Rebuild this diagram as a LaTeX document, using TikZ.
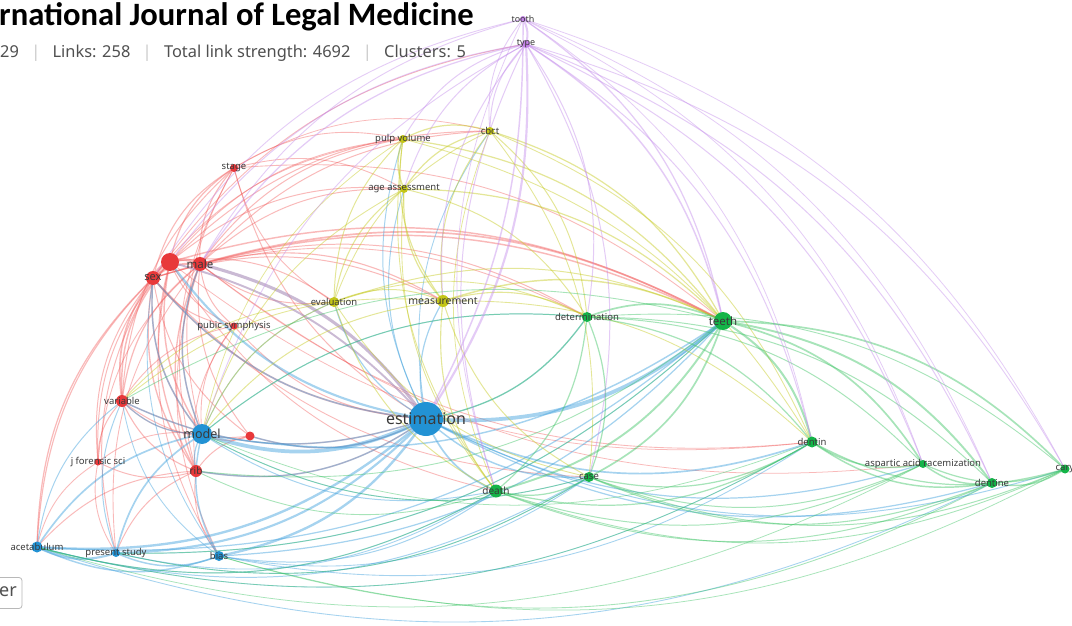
\documentclass[tikz,border=0pt]{standalone}
\usepackage{fontspec}
\setmainfont{Noto Sans}
\newfontfamily\titlefont{Carlito}
\usetikzlibrary{calc}

\definecolor{cRed}{RGB}{232,56,58}
\definecolor{cBlue}{RGB}{34,146,212}
\definecolor{cGreen}{RGB}{20,180,72}
\definecolor{cYel}{RGB}{196,198,24}
\definecolor{cPur}{RGB}{196,130,232}
\definecolor{eRed}{RGB}{242,90,90}
\definecolor{eBlue}{RGB}{70,164,222}
\definecolor{eGreen}{RGB}{60,196,100}
\definecolor{eYel}{RGB}{200,204,40}
\definecolor{ePur}{RGB}{196,140,236}
\definecolor{eMix}{RGB}{168,140,184}
\definecolor{labgray}{RGB}{58,58,58}
\definecolor{subgray}{RGB}{80,80,80}
\definecolor{sepgray}{RGB}{200,200,200}

\pgfdeclarelayer{paper}
\pgfdeclarelayer{links}
\pgfsetlayers{paper,links,main}

\tikzset{
  lab/.style={text=labgray, inner sep=0pt},
  lR/.style={draw=eRed, draw opacity=0.42},
  lB/.style={draw=eBlue, draw opacity=0.48},
  lG/.style={draw=eGreen, draw opacity=0.45},
  lY/.style={draw=eYel, draw opacity=0.48},
  lP/.style={draw=ePur, draw opacity=0.45},
  lM/.style={draw=eMix, draw opacity=0.6},
  kwdot/.style={circle, inner sep=0pt, draw=none},
}

% keyword: name, x, y, colour, diameter, font size, text
\newcommand\kw[7]{%
  \node[kwdot, fill=#4, minimum size=#5pt,
        label={[lab, font=\fontsize{#6}{#6}\selectfont]center:#7}] (#1) at (#2,#3) {};}

% curved link bowing away from the layout centre: style, from, to, weight, bend
% (a negative bend makes the link bow towards the centre instead)
\newcommand\lnk[5]{%
  \draw[#1, line width={(0.3+1.15*#4)*1pt}] let \p1=(#2.center), \p2=(#3.center), \p3=(ctr),
    \n1={((\x1-\x3)/100)*((\y2-\y3)/100)-((\y1-\y3)/100)*((\x2-\x3)/100)},
    \n2={ifthenelse(\n1<0,#5,-#5)} in
    (#2.center) to[bend left=\n2] (#3.center);}

\newcommand\statsep{\hspace{0.75em}{\color{sepgray}|}\hspace{0.75em}}

\begin{document}
\begin{tikzpicture}[x=1pt,y=-1pt]
\useasboundingbox (0,0) rectangle (1072,626);
\begin{pgfonlayer}{paper}
\fill[white] (0,0) rectangle (1072,626);
\end{pgfonlayer}
\clip (0,0) rectangle (1072,626);

\coordinate (ctr) at (520,350);

% ---- keywords ----
\kw{tooth}{523}{19}{cPur}{6}{9}{tooth}
\kw{type}{526}{44}{cPur}{8}{9}{type}
\kw{pulp}{403}{139}{cYel}{8}{9.5}{pulp volume}
\kw{cbct}{490}{131}{cYel}{8}{9.5}{cbct}
\kw{stage}{234}{168}{cRed}{8}{9.5}{stage}
\kw{age}{404}{189}{cYel}{8}{9.5}{age assessment}
\kw{redA}{170}{262}{cRed}{18}{10}{}
\kw{male}{200}{264}{cRed}{14}{11.5}{male}
\kw{sex}{153}{278}{cRed}{14}{11}{sex}
\kw{eval}{334}{302}{cYel}{10}{9.5}{evaluation}
\kw{meas}{443}{301}{cYel}{12}{10.5}{measurement}
\kw{pubic}{234}{326}{cRed}{7}{9.5}{pubic symphysis}
\kw{determ}{587}{317}{cGreen}{10}{9.5}{determination}
\kw{teeth}{723}{321}{cGreen}{18}{11.5}{teeth}
\kw{variable}{122}{401}{cRed}{12}{9.5}{variable}
\kw{est}{426}{419}{cBlue}{34}{16}{estimation}
\kw{model}{202}{434}{cBlue}{20}{12.5}{model}
\kw{redB}{250}{436}{cRed}{9}{9}{}
\kw{jfs}{98}{462}{cRed}{7}{9.5}{j forensic sci}
\kw{rib}{196}{471}{cRed}{12}{10}{rib}
\kw{dentin}{812}{442}{cGreen}{11}{9.5}{dentin}
\kw{asp}{923}{464}{cGreen}{8}{9.5}{aspartic acid racemization}
\kw{case}{589}{477}{cGreen}{10}{9.5}{case}
\kw{death}{496}{491}{cGreen}{13}{10}{death}
\kw{dentine}{992}{483}{cGreen}{10}{9.5}{dentine}
\kw{cary}{1065}{469}{cGreen}{9}{9.5}{cary}
\kw{acet}{37}{547}{cBlue}{11}{9.5}{acetabulum}
\kw{pres}{116}{553}{cBlue}{8}{9.5}{present study}
\kw{bias}{219}{556}{cBlue}{10}{9.5}{bias}

% ---- links ----
\begin{pgfonlayer}{links}
\foreach \a/\b/\w in {sex/redA/2.2, redA/male/2.2, sex/male/1.5, sex/stage/0.7, redA/stage/0.8,
  male/stage/0.7, sex/variable/1.2, redA/variable/1.0, male/variable/0.8, sex/model/1,
  redA/model/1, male/model/0.9, sex/rib/0.9, redA/rib/0.9, male/rib/0.9, sex/jfs/0.6,
  redA/jfs/0.6, male/jfs/0.5, sex/pubic/0.6, male/pubic/0.6, redA/pubic/0.6, sex/acet/0.8,
  redA/acet/0.7, sex/pres/0.6, male/pres/0.5, redA/bias/0.5, male/bias/0.5, variable/model/0.7,
  variable/rib/0.7, variable/jfs/0.6, variable/redB/0.6, rib/redB/0.6, rib/jfs/0.6,
  model/redB/0.8, redB/male/0.6, redB/sex/0.6, stage/variable/0.6, stage/rib/0.5,
  stage/eval/0.5, stage/age/0.5, stage/pulp/0.5, stage/teeth/0.5, stage/model/0.5,
  male/teeth/1.2, sex/teeth/1.0, redA/teeth/1.0, male/cbct/0.6, redA/cbct/0.6, male/pulp/0.6,
  redA/age/0.6, male/age/0.6, sex/pulp/0.5, sex/meas/0.6, male/meas/0.7, male/eval/0.6,
  redA/eval/0.6, male/determ/0.6, sex/determ/0.5, male/dentin/0.5, redA/death/0.5,
  pubic/model/0.5, pubic/rib/0.5, pubic/variable/0.5, jfs/model/0.5, jfs/acet/0.5,
  jfs/pres/0.5, rib/pres/0.6, rib/acet/0.6, rib/bias/0.5, sex/case/0.5, redA/dentin/0.4,
  male/asp/0.4, sex/est/1.2, variable/est/0.8, rib/est/0.8, redB/est/0.8,
  pubic/est/0.6, stage/est/0.6, sex/type/0.5, redA/pulp/0.5, stage/cbct/0.4}
  {\lnk{lR}{\a}{\b}{\w}{22}}
\lnk{lM}{male}{est}{2.4}{-20}
\lnk{lM}{redA}{est}{1.4}{-16}

\foreach \a/\b/\w in {est/model/3, est/acet/1.8, est/pres/1.6, est/bias/1.8, est/teeth/3,
  est/death/1.2, est/case/1.0, est/determ/0.8, est/dentin/1.2, est/asp/0.8, est/dentine/0.8,
  est/cary/0.6, est/meas/0.8, est/eval/0.8, est/age/0.6, est/pulp/0.6, est/cbct/0.5,
  est/redA/1.6, est/sex/1.0, est/variable/1, est/rib/1, est/redB/1, model/acet/1.2,
  model/pres/1.2, model/bias/1.0, model/teeth/1.0, model/determ/0.6, model/death/0.6,
  model/case/0.5, model/variable/0.8, model/rib/0.8, model/male/1.0, model/sex/1.0,
  model/eval/0.6, acet/pres/1.6, acet/bias/1.0, pres/bias/1.0, acet/teeth/0.8, acet/death/0.6,
  acet/case/0.6, acet/dentine/0.5, acet/dentin/0.5, pres/teeth/0.6, pres/death/0.5,
  pres/case/0.5, bias/teeth/0.8, bias/case/0.5, bias/death/0.6, bias/dentin/0.5,
  acet/variable/0.6, pres/variable/0.6, bias/variable/0.5, bias/sex/0.5}
  {\lnk{lB}{\a}{\b}{\w}{22}}

\foreach \a/\b/\w in {pulp/cbct/0.8, pulp/age/1, age/cbct/0.8, pulp/teeth/0.8, cbct/teeth/0.8,
  age/teeth/0.8, pulp/meas/0.7, pulp/eval/0.6, age/eval/0.7, age/meas/0.8, cbct/meas/0.6,
  cbct/eval/0.5, meas/eval/0.6, meas/teeth/1.0, eval/teeth/0.6, meas/determ/0.7,
  eval/determ/0.5, meas/death/0.7, eval/death/0.6, meas/case/0.6, pulp/dentin/0.5,
  cbct/dentin/0.5, age/determ/0.6, cbct/determ/0.6, meas/model/0.6, eval/model/0.6,
  pulp/death/0.5, cbct/case/0.5, age/death/0.5, meas/dentin/0.5, eval/case/0.5,
  meas/variable/0.5, age/model/0.5, pulp/model/0.4, eval/variable/0.5, cbct/death/0.4}
  {\lnk{lY}{\a}{\b}{\w}{22}}

\foreach \a/\b/\w in {teeth/determ/1.2, teeth/dentin/1.5, teeth/asp/1.2, teeth/dentine/1.4,
  teeth/cary/1.2, teeth/death/1.4, teeth/case/1.2, determ/death/0.8, determ/case/0.8,
  determ/dentin/0.8, determ/asp/0.6, determ/dentine/0.6, dentin/asp/1.0, dentin/dentine/1.0,
  dentin/cary/0.8, asp/dentine/1.0, asp/cary/0.8, dentine/cary/1.0, death/case/0.8,
  death/dentin/0.8, case/dentin/0.8, death/asp/0.6, case/asp/0.6, death/dentine/0.6,
  case/dentine/0.7, death/cary/0.5, case/cary/0.6, determ/cary/0.5, determ/est/0.8,
  death/acet/0.5, case/pres/0.5, determ/model/0.6, teeth/variable/0.5, teeth/rib/0.5,
  death/rib/0.5, case/model/0.5, dentin/model/0.4, teeth/pres/0.5, dentine/bias/0.5,
  asp/acet/0.4, cary/bias/0.4, dentin/acet/0.4}
  {\lnk{lG}{\a}{\b}{\w}{22}}

\foreach \a/\b/\w in {tooth/type/1.5, type/teeth/1.0,
  tooth/teeth/0.8, type/determ/0.6, type/dentin/0.6, type/asp/0.6, type/dentine/0.6,
  type/cary/0.5, tooth/cary/0.4, tooth/dentine/0.4, type/death/0.6, type/case/0.6,
  type/male/0.8, tooth/sex/0.5, tooth/male/0.5, type/redA/0.6, type/meas/0.6, type/cbct/0.6,
  tooth/cbct/0.5, type/pulp/0.6, type/age/0.6, tooth/dentin/0.4, tooth/asp/0.4,
  type/model/0.5, tooth/death/0.4}
  {\lnk{lP}{\a}{\b}{\w}{22}}
\lnk{lP}{type}{est}{1.6}{-18}
\lnk{lP}{tooth}{est}{1.0}{-14}
\end{pgfonlayer}

% ---- header ----
\node[anchor=base west, inner sep=0pt, font=\titlefont\bfseries\fontsize{32.6}{32.6}\selectfont]
  (title) at (-1,26) {rnational Journal of Legal Medicine};
\node[anchor=base west, inner sep=0pt, text=subgray, font=\fontsize{16.4}{16.4}\selectfont]
  (stats) at (0,58) {29\statsep Links: 258\statsep Total link strength: 4692\statsep Clusters: 5};

% ---- partial button ----
\node[draw=black!28, line width=0.8pt, rounded corners=3pt, minimum width=34pt,
      minimum height=31pt, inner sep=0pt] (btn) at (5,593) {};
\node[text=subgray, inner sep=0pt, font=\fontsize{18}{18}\selectfont] (btntext) at (8,592) {er};
\end{tikzpicture}
\end{document}
